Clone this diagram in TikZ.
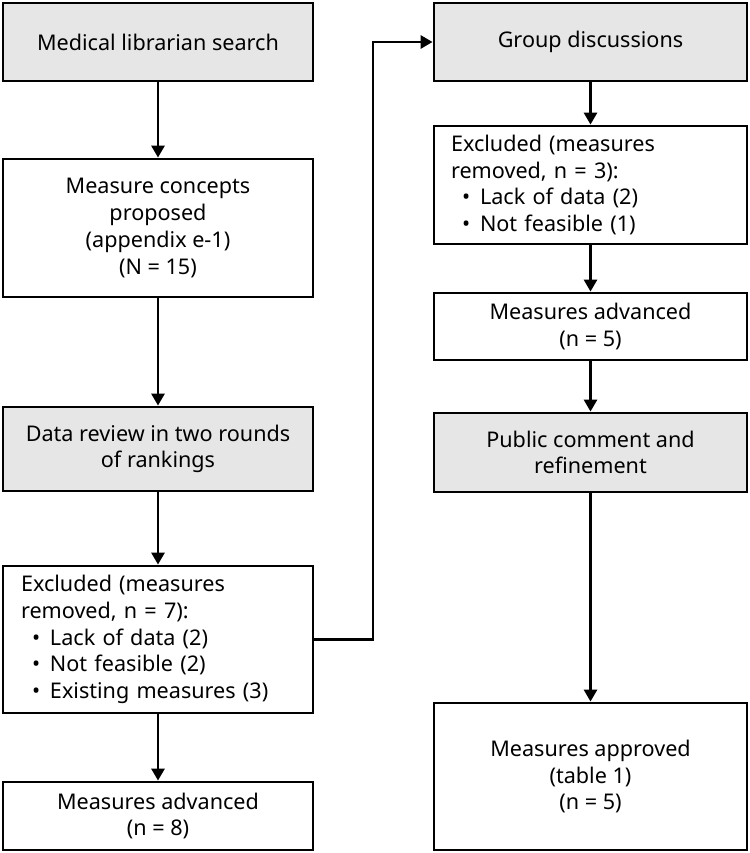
\documentclass[tikz,border=0pt]{standalone}
\usepackage{fontspec}
\setmainfont{Noto Sans}
\usetikzlibrary{arrows.meta}
\definecolor{boxgray}{HTML}{E6E6E6}
\tikzset{
  box/.style={draw=black, line width=2.8pt, inner sep=0pt, align=center,
    font=\fontsize{21.6pt}{26.7pt}\selectfont, text=black},
  graybox/.style={box, fill=boxgray},
  listbox/.style={box, align=left},
  conn/.style={line width=2.8pt, -{Triangle[length=12pt,width=13pt]}},
}
\newcommand{\bitem}[1]{\hspace*{11pt}\makebox[18pt][l]{\textbullet}#1}
\begin{document}
\begin{tikzpicture}[x=1pt,y=-1pt]
\useasboundingbox (0,0) rectangle (749,853);
% left column
\node[graybox, minimum width=310pt, minimum height=78pt] (L1) at (158,42) {Medical librarian search};
\node[box, minimum width=310pt, minimum height=138pt] (L2) at (158,228) {Measure concepts\\proposed\\(appendix e-1)\\(N = 15)};
\node[graybox, minimum width=310pt, minimum height=84pt] (L3) at (158,449) {Data review in two rounds\\of rankings};
\node[listbox, text width=274pt, inner xsep=18pt, minimum height=147pt] (L4) at (158,639.5) {Excluded (measures\\removed, n = 7):\\\bitem{Lack of data (2)}\\\bitem{Not feasible (2)}\\\bitem{Existing measures (3)}};
\node[box, minimum width=310pt, minimum height=68pt] (L5) at (158,816) {Measures advanced\\(n = 8)};
% right column
\node[graybox, minimum width=313pt, minimum height=78pt] (R1) at (590.5,42) {Group discussions};
\node[listbox, text width=279pt, inner xsep=17pt, minimum height=118pt] (R2) at (590.5,185) {Excluded (measures\\removed, n = 3):\\\bitem{Lack of data (2)}\\\bitem{Not feasible (1)}};
\node[box, minimum width=313pt, minimum height=67pt] (R3) at (590.5,326.5) {Measures advanced\\(n = 5)};
\node[graybox, minimum width=313pt, minimum height=79pt] (R4) at (590.5,452.5) {Public comment and\\refinement};
\node[box, minimum width=313pt, minimum height=147pt] (R5) at (590.5,776.5) {Measures approved\\(table 1)\\(n = 5)};
% connectors
\draw[conn] (L1) -- (L2);
\draw[conn] (L2) -- (L3);
\draw[conn] (L3) -- (L4);
\draw[conn] (L4) -- (L5);
\coordinate (c1) at (373,639.5);
\draw[conn] (L4.east) -- (c1) |- (R1.west);
\draw[conn] (R1) -- (R2);
\draw[conn] (R2) -- (R3);
\draw[conn] (R3) -- (R4);
\draw[conn] (R4) -- (R5);
\end{tikzpicture}
\end{document}
